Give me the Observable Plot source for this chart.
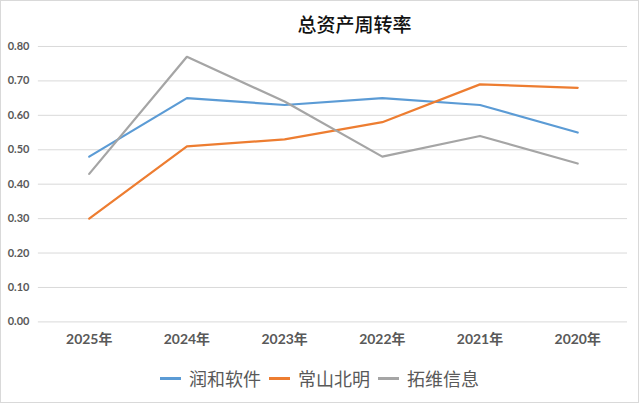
<!DOCTYPE html>
<html>
<head>
<meta charset="utf-8">
<script src="https://cdn.jsdelivr.net/npm/d3@7"></script>
<script src="https://cdn.jsdelivr.net/npm/@observablehq/plot@0.6"></script>
<style>
  html, body { margin: 0; padding: 0; background: #fff; }
  #frame { position: relative; width: 639px; height: 403px; box-sizing: border-box; border: 1px solid #d9d9d9; overflow: hidden; }
  #title { position: absolute; left: 0; width: 100%; top: 8px; height: 30px; line-height: 30px; text-align: center; padding-left: 70px; box-sizing: border-box;
           font-family: "Noto Sans CJK SC", sans-serif; font-size: 19px; font-weight: 500; color: #111; }
  #chart { position: absolute; left: -1px; top: 35px; }
  #legend { position: absolute; left: 0; top: 364px; width: 100%; display: flex; justify-content: center; align-items: center; padding-left: 0px; box-sizing: border-box;
            font-family: "Noto Sans CJK SC", sans-serif; font-size: 18px; color: #595959; }
  .item { display: flex; align-items: center; margin: 0 4px; }
  .sw { display: inline-block; width: 21px; height: 3px; margin-right: 8px; }
</style>
</head>
<body>
<div id="frame">
  <div id="title"></div>
  <div id="chart"></div>
  <div id="legend"></div>
</div>
<script>
const title = "总资产周转率";
const years = ["2025年", "2024年", "2023年", "2022年", "2021年", "2020年"];
const seriesNames = ["润和软件", "常山北明", "拓维信息"];
const runhe = [0.48, 0.65, 0.63, 0.65, 0.63, 0.55];
const changshan = [0.30, 0.51, 0.53, 0.58, 0.69, 0.68];
const tuowei = [0.43, 0.77, 0.64, 0.48, 0.54, 0.46];
const colors = ["#5B9BD5", "#ED7D31", "#A5A5A5"];
const yTicks = [0, 0.1, 0.2, 0.3, 0.4, 0.5, 0.6, 0.7, 0.8];

const seriesValues = [runhe, changshan, tuowei];
const data = [];
seriesNames.forEach((s, i) => {
  years.forEach((y, j) => data.push({series: s, year: y, value: seriesValues[i][j]}));
});

document.getElementById("title").textContent = title;

const chart = Plot.plot({
  width: 640,
  height: 324,
  marginTop: 10,
  marginBottom: 37.7,
  marginLeft: 38,
  marginRight: 11,
  style: { fontFamily: "Lato, 'Noto Sans CJK SC', sans-serif", fontWeight: "bold", color: "#595959", background: "transparent" },
  x: { type: "point", domain: years, padding: 0.5, label: null },
  y: { domain: [0, 0.8], label: null },
  color: { domain: seriesNames, range: colors },
  marks: [
    Plot.ruleY(yTicks, { stroke: "#d9d9d9", strokeWidth: 1 }),
    Plot.axisY({ ticks: yTicks, tickFormat: d3.format(".2f"), tickSize: 0, tickPadding: 9, fontSize: 11, label: null }),
    Plot.axisX({ tickSize: 0, tickPadding: 12, fontSize: 14, label: null }),
    Plot.line(data, { x: "year", y: "value", z: "series", stroke: "series", strokeWidth: 2.25, strokeLinejoin: "round", strokeLinecap: "round" })
  ]
});
document.getElementById("chart").appendChild(chart);

const legend = document.getElementById("legend");
seriesNames.forEach((s, i) => {
  const item = document.createElement("span");
  item.className = "item";
  const sw = document.createElement("span");
  sw.className = "sw";
  sw.style.background = colors[i];
  item.appendChild(sw);
  item.appendChild(document.createTextNode(s));
  legend.appendChild(item);
});
</script>
</body>
</html>
